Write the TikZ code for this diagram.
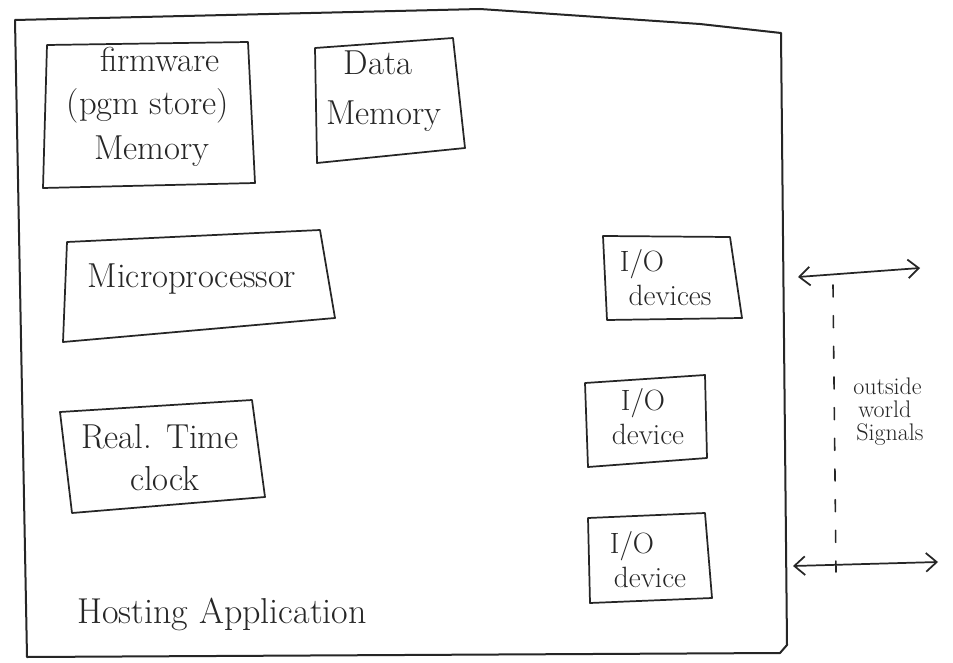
\documentclass[tikz,border=0pt]{standalone}
\usetikzlibrary{arrows.meta}
\begin{document}
\begin{tikzpicture}[x=0.75pt,y=-0.75pt,
  ink/.style={draw=black!85, line width=1.3pt, line join=round, line cap=round},
  frame/.style={ink, line width=1.5pt},
  word/.style={font=\fontsize{26}{30}\selectfont, text=black!85, inner sep=0pt, anchor=base},
  ioword/.style={word, font=\fontsize{22}{26}\selectfont},
  sigword/.style={font=\fontsize{18}{22}\selectfont, text=black!85, inner sep=0pt, anchor=base west},
  signal/.style={ink, {Straight Barb[length=8pt,width=14pt]}-{Straight Barb[length=8pt,width=14pt]}},
  ticks/.style={ink, line width=1.2pt, dash pattern=on 9pt off 14pt}]
\useasboundingbox (0,0) rectangle (953,663);
\fill[white] (0,0) rectangle (953,663);

% hosting application frame
\coordinate (h1) at (15,20);  \coordinate (h2) at (480,9);
\coordinate (h3) at (700,24); \coordinate (h4) at (781,33);
\coordinate (h5) at (787,645); \coordinate (h6) at (780,653);
\coordinate (h7) at (27,657);
\draw[frame] (h1) -- (h2) -- (h3) -- (h4) -- (h5) -- (h6) -- (h7) -- cycle;

% firmware memory
\draw[ink] (47,45) -- (248,42) -- (255,183) -- (43,188) -- cycle;
\node[word] (fw1) at (160,72) {firmware};
\node[word] (fw2) at (148,115) {(pgm store)};
\node[word] (fw3) at (152,160) {Memory};

% data memory
\draw[ink] (315,48) -- (453,38) -- (465,148) -- (317,163) -- cycle;
\node[word] (dm1) at (378,75) {Data};
\node[word] (dm2) at (384,125) {Memory};

% microprocessor
\draw[ink] (67,242) -- (320,230) -- (335,318) -- (63,342) -- cycle;
\node[word] (mp) at (192,287) {Microprocessor};

% real time clock
\draw[ink] (60,412) -- (252,400) -- (265,497) -- (72,513) -- cycle;
\node[word] (rt1) at (160,448) {Real. Time};
\node[word] (rt2) at (165,490) {clock};

% I/O devices
\draw[ink] (603,236) -- (730,237) -- (742,318) -- (607,320) -- cycle;
\node[ioword] (io1a) at (642,271) {I/O};
\node[ioword] (io1b) at (670,305) {devices};

\draw[ink] (585,383) -- (705,375) -- (707,458) -- (588,467) -- cycle;
\node[ioword] (io2a) at (643,410) {I/O};
\node[ioword] (io2b) at (648,444) {device};

\draw[ink] (588,518) -- (705,513) -- (712,598) -- (590,603) -- cycle;
\node[ioword] (io3a) at (632,553) {I/O};
\node[ioword] (io3b) at (650,587) {device};

\node[word, anchor=base west, font=\fontsize{27}{31}\selectfont] (host) at (77,623) {Hosting Application};

% outside world signals
\coordinate (s1a) at (798,277); \coordinate (s1b) at (920,268);
\coordinate (s2a) at (793,566); \coordinate (s2b) at (938,562);
\draw[signal] (s1a) -- (s1b);
\draw[signal] (s2a) -- (s2b);
\coordinate (d1) at (833,285); \coordinate (d2) at (836,572);
\draw[ticks] (d1) -- (d2);
\node[sigword] (ow1) at (853,394) {outside};
\node[sigword] (ow2) at (858,417) {world};
\node[sigword] (ow3) at (856,440) {Signals};
\end{tikzpicture}
\end{document}
